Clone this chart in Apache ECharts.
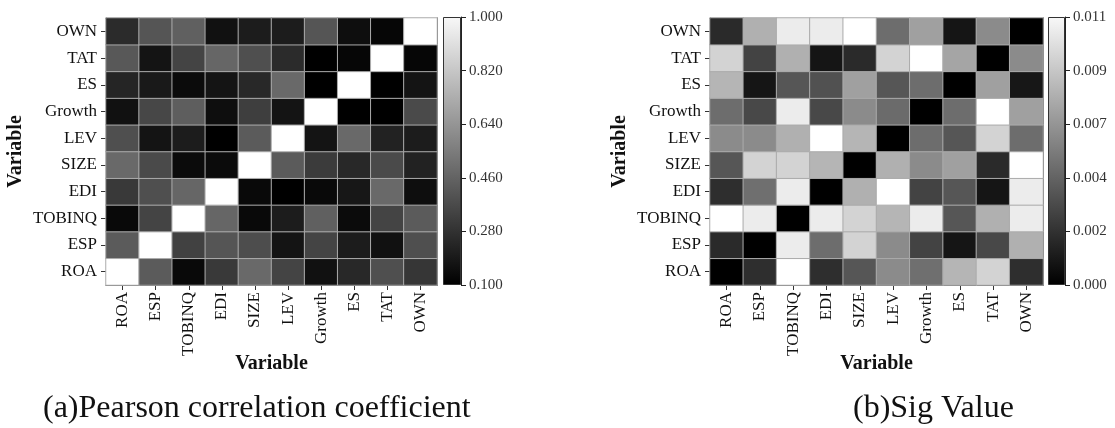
<!DOCTYPE html>
<html>
<head>
<meta charset="utf-8">
<script src="https://cdn.jsdelivr.net/npm/echarts@6/dist/echarts.min.js"></script>
<style>
html,body{margin:0;padding:0;background:#fff;}
#main{width:1115px;height:428px;}
</style>
</head>
<body>
<div id="main"></div>
<script>
// Variables (x: left to right, y: bottom to top)
var variables = ['ROA','ESP','TOBINQ','EDI','SIZE','LEV','Growth','ES','TAT','OWN'];

// Pearson correlation coefficient, one row per y-category (bottom to top), columns in variables order
var pearsonRows = {
  ROA:    [1.00,0.42,0.13,0.30,0.47,0.34,0.16,0.24,0.38,0.29],
  ESP:    [0.42,1.00,0.33,0.40,0.37,0.17,0.34,0.20,0.16,0.38],
  TOBINQ: [0.13,0.34,1.00,0.46,0.13,0.20,0.44,0.14,0.34,0.42],
  EDI:    [0.30,0.38,0.46,1.00,0.13,0.10,0.13,0.18,0.47,0.15],
  SIZE:   [0.47,0.36,0.14,0.14,1.00,0.42,0.31,0.24,0.36,0.22],
  LEV:    [0.38,0.17,0.20,0.10,0.42,1.00,0.17,0.47,0.22,0.20],
  Growth: [0.16,0.35,0.43,0.15,0.32,0.17,1.00,0.10,0.10,0.36],
  ES:     [0.23,0.19,0.14,0.17,0.24,0.47,0.10,1.00,0.10,0.17],
  TAT:    [0.41,0.17,0.34,0.46,0.38,0.25,0.10,0.12,1.00,0.12],
  OWN:    [0.25,0.40,0.44,0.16,0.20,0.20,0.40,0.15,0.12,1.00]
};

// Sig values
var sigRows = {
  ROA:    [0.0000,0.0020,0.0110,0.0020,0.0037,0.0060,0.0048,0.0078,0.0091,0.0020],
  ESP:    [0.0018,0.0000,0.0102,0.0047,0.0091,0.0060,0.0029,0.0009,0.0031,0.0076],
  TOBINQ: [0.0110,0.0102,0.0000,0.0102,0.0091,0.0078,0.0102,0.0037,0.0076,0.0102],
  EDI:    [0.0020,0.0048,0.0102,0.0000,0.0076,0.0110,0.0029,0.0037,0.0009,0.0102],
  SIZE:   [0.0037,0.0091,0.0091,0.0078,0.0000,0.0076,0.0060,0.0069,0.0018,0.0110],
  LEV:    [0.0060,0.0060,0.0076,0.0110,0.0078,0.0000,0.0047,0.0037,0.0091,0.0047],
  Growth: [0.0047,0.0031,0.0102,0.0031,0.0060,0.0046,0.0000,0.0047,0.0110,0.0069],
  ES:     [0.0078,0.0009,0.0037,0.0035,0.0069,0.0037,0.0047,0.0000,0.0069,0.0010],
  TAT:    [0.0091,0.0029,0.0076,0.0009,0.0018,0.0091,0.0110,0.0071,0.0000,0.0060],
  OWN:    [0.0018,0.0076,0.0102,0.0102,0.0110,0.0047,0.0069,0.0009,0.0060,0.0000]
};

// Colour bar ranges and tick values
var pearsonRange = [0.1, 1.0];
var pearsonTicks = [0.1, 0.28, 0.46, 0.64, 0.82, 1.0];
var sigRange = [0.0, 0.011];
var sigTicks = [0.0, 0.0022, 0.0044, 0.0066, 0.0088, 0.011];

var axisTitle = 'Variable';
var captionA = '(a)Pearson correlation coefficient';
var captionB = '(b)Sig Value';

function toTriples(rows) {
  var out = [];
  variables.forEach(function (yName, yi) {
    rows[yName].forEach(function (v, xi) { out.push([xi, yi, v]); });
  });
  return out;
}

var FONT = '"Liberation Serif","Times New Roman",serif';
var grids = [
  {left: 106, top: 18, width: 331, height: 267},
  {left: 443, top: 17, width: 18, height: 268},
  {left: 710, top: 18, width: 333, height: 267},
  {left: 1048, top: 17, width: 17, height: 268}
];

function heatX(gi) {
  return {
    type: 'category', gridIndex: gi, data: variables,
    axisLine: {show: true, lineStyle: {color: '#333', width: 1}},
    axisTick: {show: true, alignWithLabel: true, length: 5, lineStyle: {color: '#333'}},
    axisLabel: {rotate: 90, fontFamily: FONT, fontSize: 17, color: '#111', margin: 7},
    splitLine: {show: false}
  };
}
function heatY(gi) {
  return {
    type: 'category', gridIndex: gi, data: variables,
    axisLine: {show: true, lineStyle: {color: '#333', width: 1}},
    axisTick: {show: true, alignWithLabel: true, length: 5, lineStyle: {color: '#333'}},
    axisLabel: {fontFamily: FONT, fontSize: 17, color: '#111', margin: 9},
    name: axisTitle, nameLocation: 'middle', nameGap: 80, nameRotate: 90,
    nameTextStyle: {fontFamily: FONT, fontSize: 20, fontWeight: 'bold', color: '#111'},
    splitLine: {show: false}
  };
}
function frameX(gi) {
  return {type: 'category', gridIndex: gi, data: variables, position: 'top',
    axisLine: {show: true, lineStyle: {color: '#333'}}, axisTick: {show: false}, axisLabel: {show: false}};
}
function frameY(gi) {
  return {type: 'category', gridIndex: gi, data: variables, position: 'right',
    axisLine: {show: true, lineStyle: {color: '#333'}}, axisTick: {show: false}, axisLabel: {show: false}};
}
function barX(gi) {
  return {type: 'category', gridIndex: gi, data: ['c'], show: false};
}
function barY(gi, range, ticks) {
  return {
    type: 'value', gridIndex: gi, min: range[0], max: range[1], position: 'right',
    axisLine: {show: true, lineStyle: {color: '#222'}},
    axisTick: {show: true, length: 5, customValues: ticks, lineStyle: {color: '#222'}},
    axisLabel: {customValues: ticks, fontFamily: FONT, fontSize: 15, color: '#333', margin: 8,
      formatter: function (v) { return Number(v).toFixed(3); }},
    splitLine: {show: false}
  };
}

var xAxes = [heatX(0), barX(1), heatX(2), barX(3), frameX(0), frameX(2)];
var yAxes = [heatY(0), barY(1, pearsonRange, pearsonTicks), heatY(2), barY(3, sigRange, sigTicks), frameY(0), frameY(2)];

var gradient = {type: 'linear', x: 0, y: 0, x2: 0, y2: 1,
  colorStops: [{offset: 0, color: '#f8f8f8'}, {offset: 1, color: '#000000'}]};

function colorBarSeries(gi, range) {
  return [
    {type: 'bar', xAxisIndex: gi, yAxisIndex: gi, stack: 'cb' + gi, data: [range[0]],
      barWidth: '100%', itemStyle: {color: 'rgba(0,0,0,0)'}, silent: true},
    {type: 'bar', xAxisIndex: gi, yAxisIndex: gi, stack: 'cb' + gi, data: [range[1] - range[0]],
      barWidth: '100%', itemStyle: {color: gradient, borderColor: '#333', borderWidth: 1}, silent: true}
  ];
}

var heatStyle = {borderColor: '#ababab', borderWidth: 1};

var series = [
  {type: 'heatmap', xAxisIndex: 0, yAxisIndex: 0, data: toTriples(pearsonRows), itemStyle: heatStyle},
  {type: 'heatmap', xAxisIndex: 2, yAxisIndex: 2, data: toTriples(sigRows), itemStyle: heatStyle}
].concat(colorBarSeries(1, pearsonRange), colorBarSeries(3, sigRange));

function xTitle(g) {
  return {type: 'text', x: g.left + g.width / 2, y: 364,
    style: {text: axisTitle, font: 'bold 20px ' + FONT, fill: '#111', textAlign: 'center', textVerticalAlign: 'middle'}};
}

var chart = echarts.init(document.getElementById('main'), null, {renderer: 'canvas'});
chart.setOption({
  backgroundColor: '#fff',
  animation: false,
  grid: grids,
  xAxis: xAxes,
  yAxis: yAxes,
  visualMap: [
    {type: 'continuous', show: false, seriesIndex: 0, min: pearsonRange[0], max: pearsonRange[1],
      inRange: {color: ['#000000', '#ffffff']}},
    {type: 'continuous', show: false, seriesIndex: 1, min: sigRange[0], max: sigRange[1],
      inRange: {color: ['#000000', '#ffffff']}}
  ],
  graphic: [
    xTitle(grids[0]),
    xTitle(grids[2]),
    {type: 'text', left: 43, top: 393, style: {text: captionA, font: '32px ' + FONT, fill: '#111'}},
    {type: 'text', left: 853, top: 393, style: {text: captionB, font: '32px ' + FONT, fill: '#111'}}
  ],
  series: series
});
</script>
</body>
</html>
